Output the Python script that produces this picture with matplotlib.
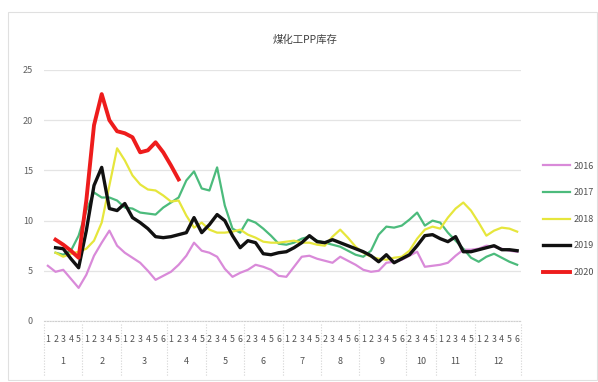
import numpy as np
import matplotlib
matplotlib.use("Agg")
import matplotlib.pyplot as plt
import matplotlib.transforms as mtransforms
from matplotlib.patches import Rectangle

plt.rcParams['font.family'] = ['Noto Sans CJK SC', 'DejaVu Sans']

title = "煤化工PP库存"
months = ["1", "2", "3", "4", "5", "6", "7", "8", "9", "10", "11", "12"]
month_weeks = [
    [1, 2, 3, 4, 5],
    [1, 2, 3, 4, 5],
    [1, 2, 3, 4, 5, 6],
    [1, 2, 3, 4, 5],
    [2, 3, 4, 5, 6],
    [2, 3, 4, 5, 6],
    [1, 2, 3, 4, 5],
    [2, 3, 4, 5, 6],
    [1, 2, 3, 4, 5, 6],
    [2, 3, 4, 5],
    [1, 2, 3, 4, 5],
    [1, 2, 3, 4, 5, 6],
]
nan = np.nan
s2016 = [5.5, 4.9, 5.1, 4.2, 3.3, 4.6, 6.5, 7.8, 9.0, 7.5, 6.8, 6.3, 5.8, 5.0, 4.1, 4.5,
         4.9, 5.6, 6.5, 7.8, 7.0, 6.8, 6.4, 5.2, 4.4, 4.8, 5.1, 5.6, 5.4, 5.1, 4.5, 4.4,
         5.4, 6.4, 6.5, 6.2, 6.0, 5.8, 6.4, 6.0, 5.6, 5.1, 4.9, 5.0, 5.8, 5.9, 6.1, 6.5,
         6.9, 5.4, 5.5, 5.6, 5.8, 6.5, 7.1, 7.1, 7.2, 7.5, 7.4, 7.2, 7.0, 6.9]
s2017 = [nan, 6.8, 6.6, 7.0, 8.5, 11.0, 12.8, 12.3, 12.3, 12.0, 11.3, 11.2, 10.8, 10.7, 10.6, 11.3,
         11.8, 12.3, 14.0, 14.9, 13.2, 13.0, 15.3, 11.5, 9.2, 8.8, 10.1, 9.8, 9.2, 8.5, 7.7, 7.6,
         7.8, 8.2, 8.4, 8.0, 7.8, 7.6, 7.4, 7.0, 6.6, 6.4, 7.0, 8.6, 9.4, 9.3, 9.5, 10.1,
         10.8, 9.5, 10.0, 9.8, 8.8, 8.0, 7.2, 6.3, 5.9, 6.4, 6.7, 6.3, 5.9, 5.6]
s2018 = [nan, 6.8, 6.4, 6.7, 6.9, 7.2, 8.0, 9.8, 13.5, 17.2, 16.0, 14.5, 13.6, 13.1, 13.0, 12.5,
         11.9, 12.0, 10.5, 9.3, 9.8, 9.1, 8.8, 8.8, 8.9, 9.1, 8.6, 8.3, 7.9, 7.8, 7.8, 7.9,
         8.0, 7.8, 7.8, 7.6, 7.5, 8.4, 9.1, 8.3, 7.4, 6.8, 6.4, 6.2, 6.1, 6.3, 6.4, 7.0,
         8.2, 9.1, 9.4, 9.2, 10.3, 11.2, 11.8, 11.0, 9.8, 8.5, 9.0, 9.3, 9.2, 8.9]
s2019 = [nan, 7.3, 7.2, 6.2, 5.3, 9.0, 13.5, 15.3, 11.2, 11.0, 11.7, 10.3, 9.8, 9.2, 8.4, 8.3,
         8.4, 8.6, 8.8, 10.3, 8.8, 9.6, 10.6, 10.0, 8.5, 7.3, 8.0, 7.8, 6.7, 6.6, 6.8, 6.9,
         7.3, 7.8, 8.5, 7.9, 7.8, 8.1, 7.8, 7.5, 7.2, 6.9, 6.5, 5.9, 6.6, 5.8, 6.2, 6.6,
         7.5, 8.5, 8.6, 8.2, 7.9, 8.4, 6.9, 6.9, 7.1, 7.3, 7.5, 7.1, 7.1, 7.0]
s2020 = [nan, 8.1, 7.6, 7.0, 6.3, 12.0, 19.5, 22.6, 20.0, 18.9, 18.7, 18.3, 16.8, 17.0, 17.8, 16.8,
         15.5, 14.1]

series = [("2016", s2016, "#d98ad9", 1.6),
          ("2017", s2017, "#4cbb7c", 1.6),
          ("2018", s2018, "#e6e63c", 1.6),
          ("2019", s2019, "#111111", 2.4),
          ("2020", s2020, "#ee1c1c", 2.8)]

week_labels = [str(w) for grp in month_weeks for w in grp]
n = len(week_labels)

fig = plt.figure(figsize=(5.98, 3.82), dpi=100)
fig.patches.append(Rectangle((8 / 598, 2 / 382), 1 - 8 / 598 - 0.002, 368 / 382,
                             transform=fig.transFigure, fill=False,
                             edgecolor="#e0e0e0", lw=0.8))
ax = fig.add_axes([44 / 598, 61 / 382, 477 / 598, 251 / 382])

for name, vals, col, lw in series:
    x = np.arange(len(vals))
    ax.plot(x, vals, color=col, lw=lw, label=name, solid_joinstyle="round")

ax.set_xlim(-0.5, n - 0.5)
ax.set_ylim(0, 25)
ax.set_yticks([0, 5, 10, 15, 20, 25])
ax.yaxis.grid(True, color="#e4e4e4", lw=0.9)
ax.set_axisbelow(True)
for sp in ["top", "right", "left"]:
    ax.spines[sp].set_visible(False)
ax.spines["bottom"].set_color("#cfcfcf")
ax.spines["bottom"].set_linestyle((0, (1, 1.5)))
ax.tick_params(axis="y", length=0, pad=8, labelsize=6.5, labelcolor="#606060")
ax.set_xticks(np.arange(n))
ax.set_xticklabels(week_labels)
ax.tick_params(axis="x", length=0, pad=10, labelsize=6.3, labelcolor="#505050")

trans = mtransforms.blended_transform_factory(ax.transData, ax.transAxes)
pos = -0.5
for m, grp in zip(months, month_weeks):
    ax.plot([pos, pos], [-0.01, -0.22], transform=trans, clip_on=False,
            color="#d4d4d4", lw=0.8, ls=(0, (1, 1.5)))
    center = pos + len(grp) / 2
    ax.text(center, -0.163, m, transform=trans, ha="center", va="center",
            fontsize=6.5, color="#505050")
    pos += len(grp)
ax.plot([pos, pos], [-0.01, -0.22], transform=trans, clip_on=False,
        color="#d4d4d4", lw=0.8, ls=(0, (1, 1.5)))

fig.text(305 / 598, 1 - 40 / 382, title, ha="center", va="center",
         fontsize=7.5, color="#404040")

fig.legend(loc="upper left", bbox_to_anchor=(538 / 598, 1 - 157 / 382),
           frameon=False, fontsize=6.5, handlelength=3.0, handletextpad=0.4,
           labelspacing=1.95, borderpad=0, labelcolor="#505050")

fig.savefig("out.png", dpi=100)
